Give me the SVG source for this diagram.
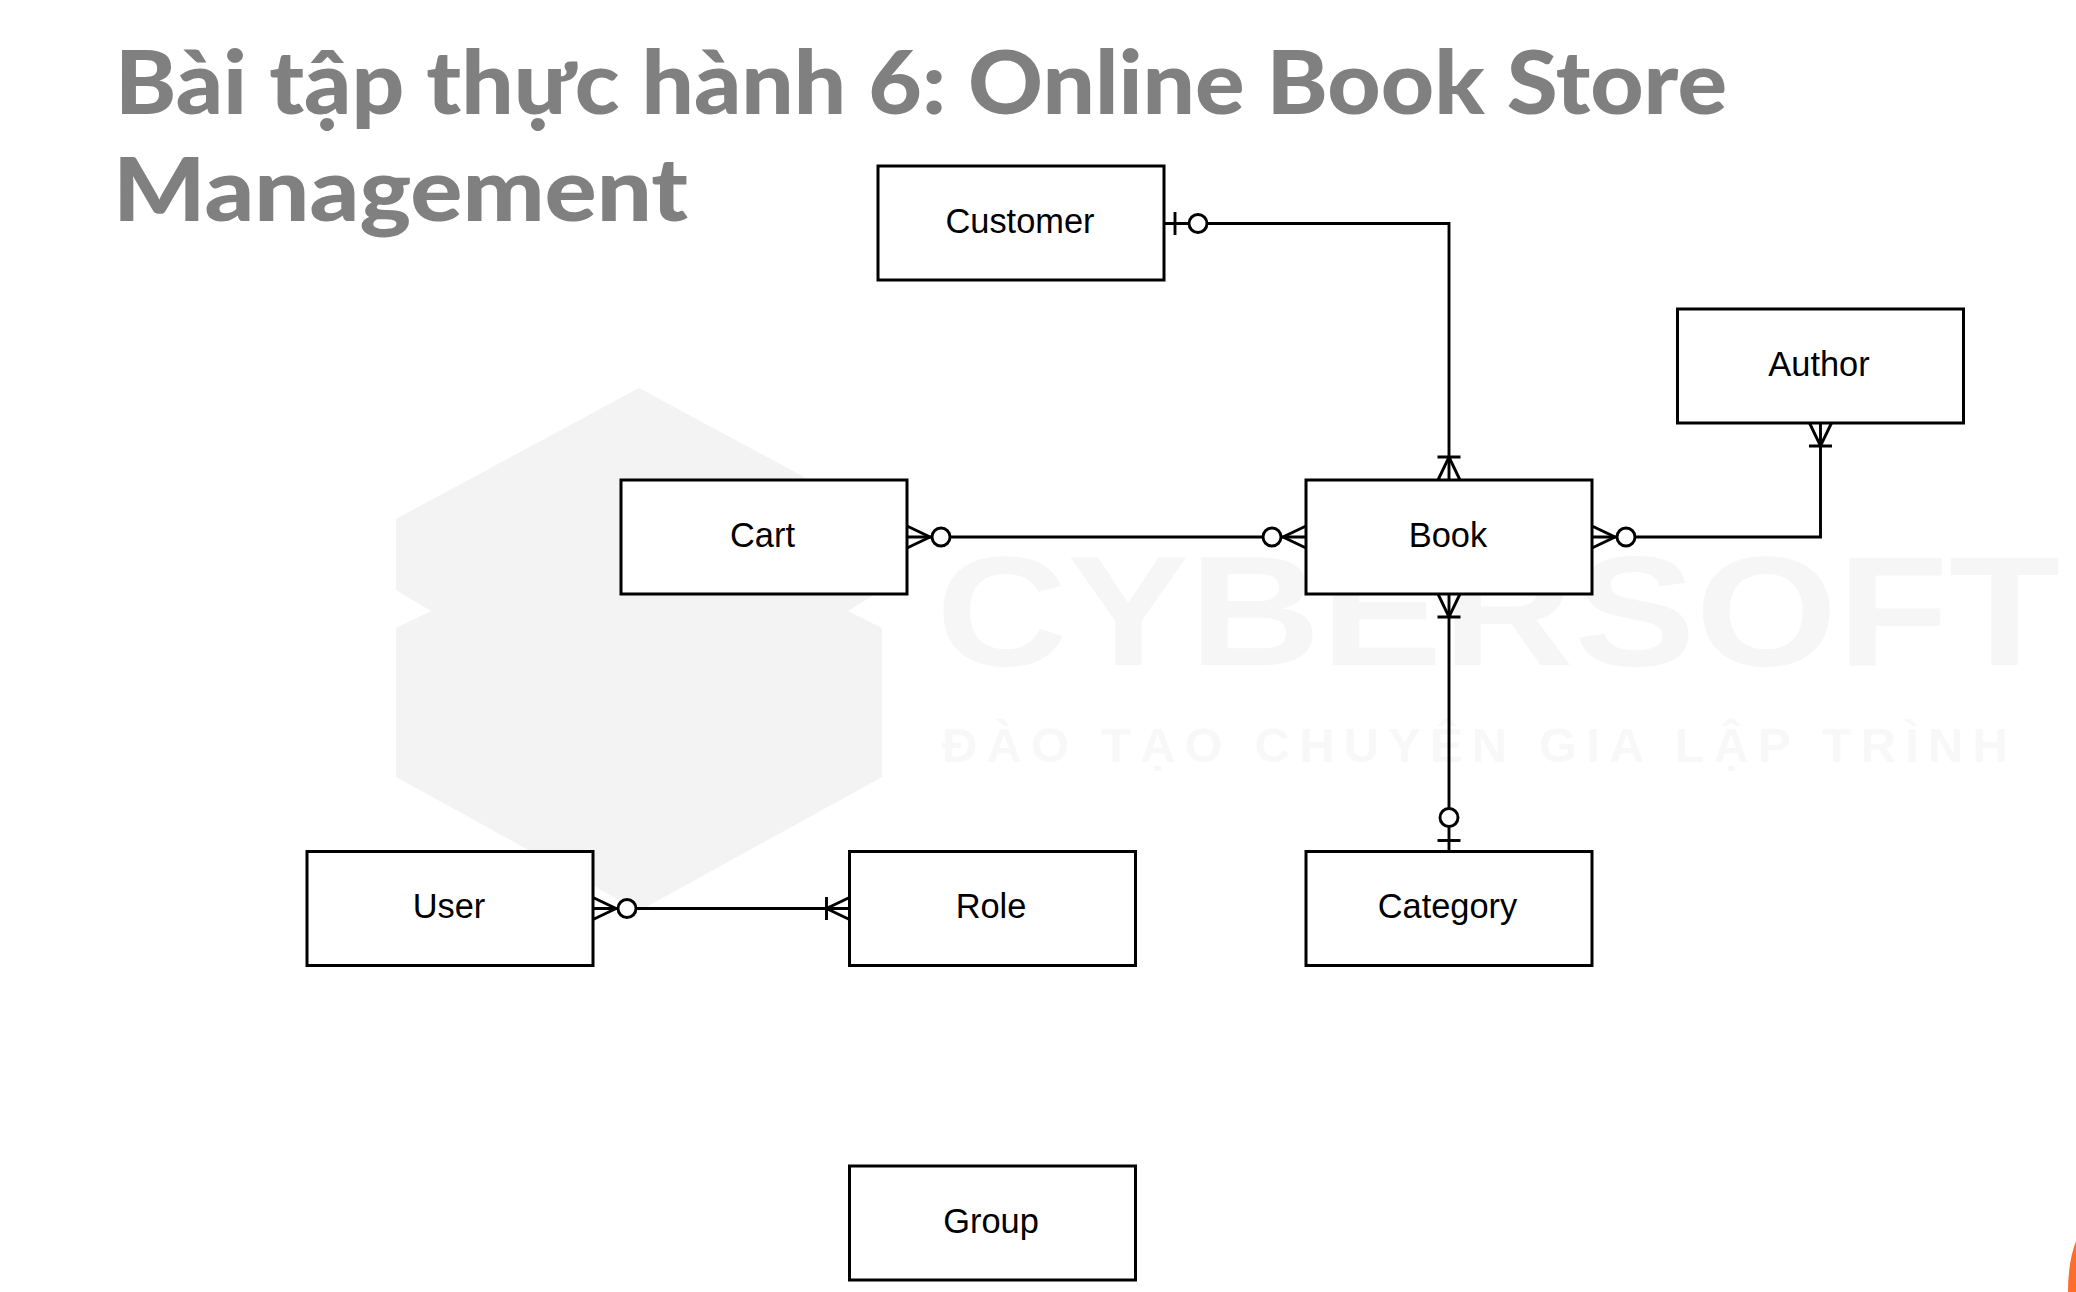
<svg xmlns="http://www.w3.org/2000/svg" width="2076" height="1292" viewBox="0 0 2076 1292">
<style>
.box{fill:#fff;stroke:#000;stroke-width:3}
.lbl{font-family:"Liberation Sans",Arial,sans-serif;font-size:34.4px;fill:#000;text-anchor:middle}
.title{font-family:Lato,"Noto Sans",sans-serif;font-weight:900;font-size:88px;fill:#808080}
.conn{fill:none;stroke:#000;stroke-width:2.9}
.mk{fill:none;stroke:#000;stroke-width:2.9}
.mk circle{fill:#fff}
</style>
<defs>
<marker id="many-zero" markerUnits="userSpaceOnUse" orient="auto-start-reverse" viewBox="-46 -15 50 30" markerWidth="50" markerHeight="30" refX="0" refY="0"><g class="mk"><path d="M0-11L-23 0L0 11"/><circle cx="-34" r="9"/></g></marker>
<marker id="many-one" markerUnits="userSpaceOnUse" orient="auto-start-reverse" viewBox="-46 -15 50 30" markerWidth="50" markerHeight="30" refX="0" refY="0"><g class="mk"><path d="M0-11L-23 0L0 11M-23-11.500V11.500"/></g></marker>
<marker id="one-zero" markerUnits="userSpaceOnUse" orient="auto-start-reverse" viewBox="-46 -15 50 30" markerWidth="50" markerHeight="30" refX="0" refY="0"><g class="mk"><path d="M-11-11.500V11.500"/><circle cx="-34" r="9"/></g></marker>
</defs>
<rect width="2076" height="1292" fill="#fff"/>
<g id="watermark">
<path fill="#f3f3f3" d="M639 388L882 519V590L848 611L882 628V777L639 911L396 777V628L431 611L396 590V519Z"/>
<text x="936" y="665" textLength="1124" lengthAdjust="spacingAndGlyphs" font-family="Liberation Sans,sans-serif" font-weight="700" font-size="156" fill="#f6f6f6">CYBERSOFT</text>
<text x="942" y="762" textLength="1066" lengthAdjust="spacing" font-family="Liberation Sans,sans-serif" font-weight="700" font-size="49" fill="#f8f8f8">ĐÀO TẠO CHUYÊN GIA LẬP TRÌNH</text>
</g>
<g id="title">
<text class="title" x="115" y="114" textLength="1612" lengthAdjust="spacingAndGlyphs">Bài tập thực hành 6: Online Book Store</text>
<text class="title" x="113" y="221" textLength="575" lengthAdjust="spacingAndGlyphs">Management</text>
</g>
<g id="customer"><rect class="box" x="878" y="166" width="286" height="114"/><text class="lbl" x="1020" y="233">Customer</text></g>
<g id="author"><rect class="box" x="1677.500" y="309" width="286" height="114"/><text class="lbl" x="1819" y="376">Author</text></g>
<g id="cart"><rect class="box" x="621" y="480" width="286" height="114"/><text class="lbl" x="762.500" y="547">Cart</text></g>
<g id="book"><rect class="box" x="1306" y="480" width="286" height="114"/><text class="lbl" x="1448" y="547">Book</text></g>
<g id="user"><rect class="box" x="307" y="851.500" width="286" height="114"/><text class="lbl" x="449" y="918">User</text></g>
<g id="role"><rect class="box" x="849.500" y="851.500" width="286" height="114"/><text class="lbl" x="991" y="918">Role</text></g>
<g id="category"><rect class="box" x="1306" y="851.500" width="286" height="114"/><text class="lbl" x="1447.500" y="918">Category</text></g>
<g id="group"><rect class="box" x="849.500" y="1166" width="286" height="114"/><text class="lbl" x="991" y="1232.500">Group</text></g>
<g id="connectors">
<path class="conn" d="M1164 223.500H1449V480" marker-start="url(#one-zero)" marker-end="url(#many-one)"/>
<path class="conn" d="M1592 537H1820.500V423" marker-start="url(#many-zero)" marker-end="url(#many-one)"/>
<path class="conn" d="M907 537H1306" marker-start="url(#many-zero)" marker-end="url(#many-zero)"/>
<path class="conn" d="M1449 594V851.500" marker-start="url(#many-one)" marker-end="url(#one-zero)"/>
<path class="conn" d="M593 908.500H849.500" marker-start="url(#many-zero)" marker-end="url(#many-one)"/>
</g>
<path id="corner" fill="#ff6d2a" d="M2076 1241Q2068 1262 2068 1292H2076Z"/>
</svg>
